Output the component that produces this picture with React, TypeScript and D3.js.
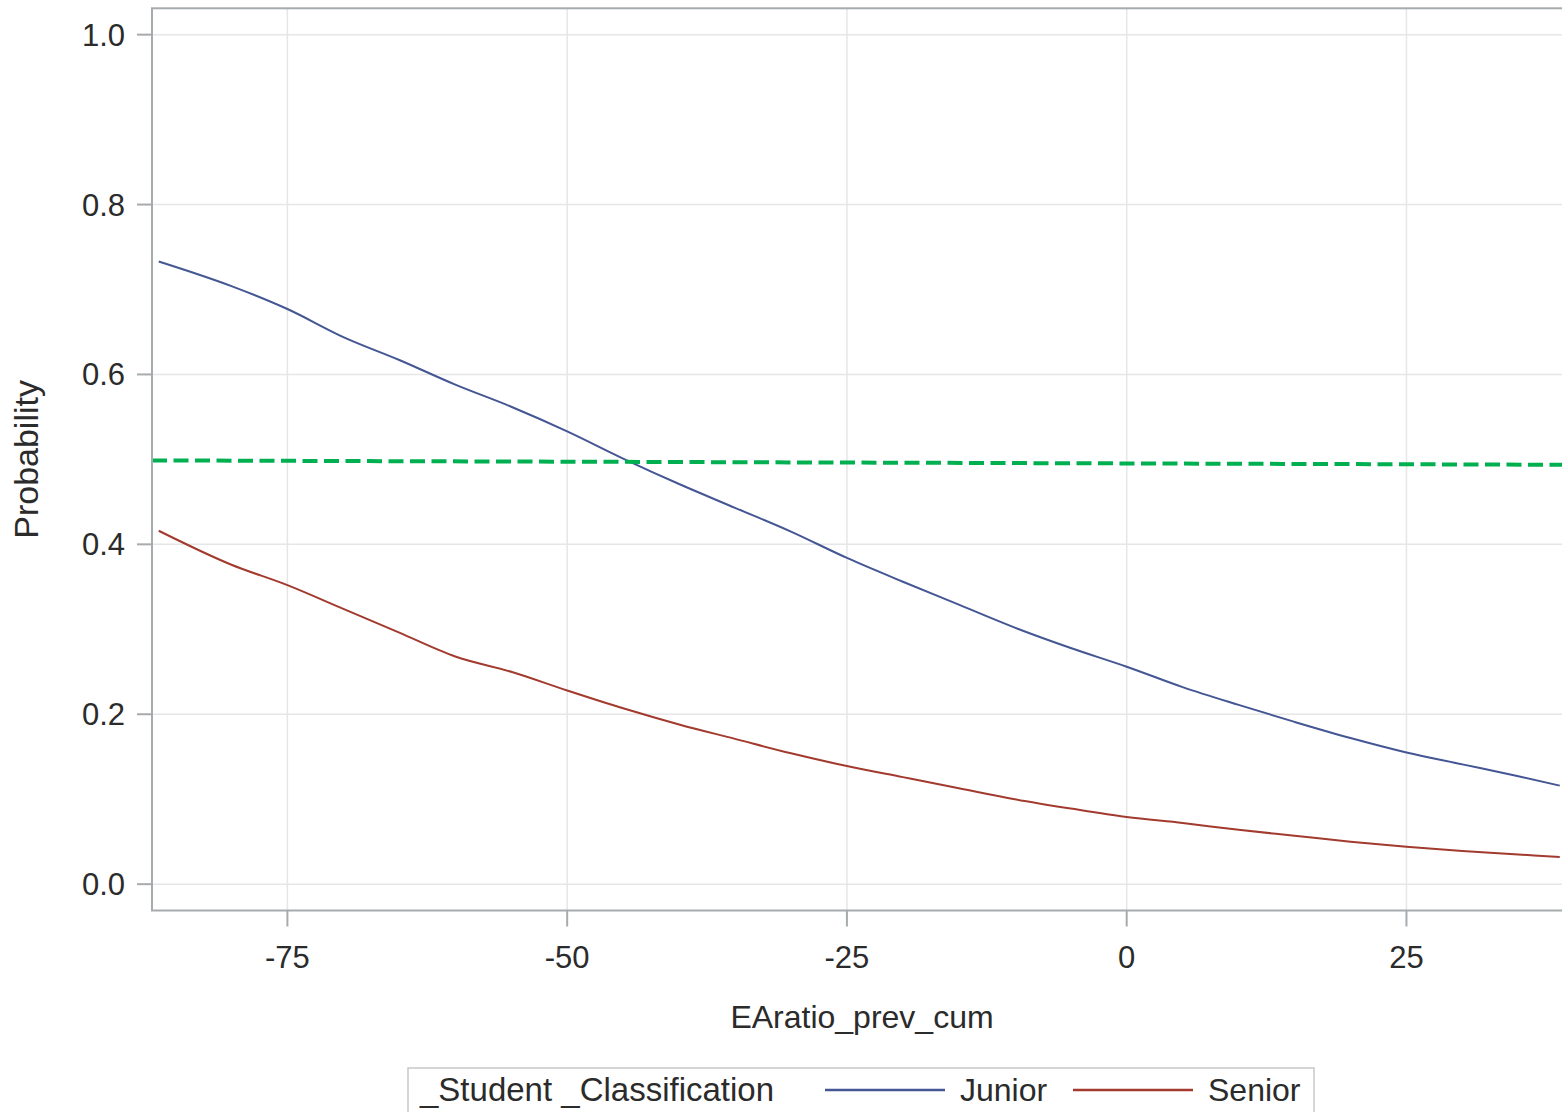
import React from "react";
import { scaleLinear, line, curveMonotoneX } from "d3";

// values
const xValues = [-86.5, -80, -75, -70, -65, -60, -55, -50, -45, -40, -35, -30, -25, -20, -15, -10, -5, 0, 5, 10, 15, 20, 25, 30, 35, 38.7];
const junior = [0.733, 0.704, 0.677, 0.644, 0.617, 0.588, 0.562, 0.533, 0.501, 0.471, 0.443, 0.415, 0.384, 0.356, 0.329, 0.302, 0.278, 0.256, 0.232, 0.211, 0.191, 0.172, 0.155, 0.141, 0.127, 0.116];
const senior = [0.416, 0.376, 0.352, 0.324, 0.296, 0.268, 0.25, 0.228, 0.207, 0.188, 0.171, 0.154, 0.139, 0.126, 0.113, 0.1, 0.089, 0.079, 0.072, 0.064, 0.057, 0.05, 0.044, 0.039, 0.035, 0.032];
const cutoffX = [-87.1, 38.9];
const cutoffY = [0.4988, 0.4937];

const xTicks = [-75, -50, -25, 0, 25];
const yTicks = [0, 0.2, 0.4, 0.6, 0.8, 1.0];

const seriesNames = ["Junior", "Senior"];
const seriesColors = ["#445694", "#A23A2E"];

const W = 1562;
const H = 1112;
const left = 152;
const right = 1562;
const top = 8.3;
const bottom = 910.5;

const font = "'Liberation Sans', Arial, sans-serif";
const ink = "#2b2b2b";

export default function App() {
  const x = scaleLinear().domain([-87.1, 38.9]).range([left, right]);
  const y = scaleLinear().domain([-0.031, 1.031]).range([bottom, top]);

  const path = line<[number, number]>()
    .x((d) => x(d[0]))
    .y((d) => y(d[1]))
    .curve(curveMonotoneX);

  const series = [junior, senior].map((vals) => xValues.map((v, i) => [v, vals[i]] as [number, number]));
  const cutoff = cutoffX.map((v, i) => [v, cutoffY[i]] as [number, number]);

  return (
    <svg
      width={W}
      height={H}
      style={{ position: "absolute", left: 0, top: 0, background: "#fff" }}
      fontFamily={font}
    >
      <defs>
        <clipPath id="plot">
          <rect x={left} y={top} width={right - left} height={bottom - top} />
        </clipPath>
      </defs>

      {/* grid */}
      {xTicks.map((t) => (
        <line key={"gx" + t} x1={x(t)} x2={x(t)} y1={top} y2={bottom} stroke="#e6e6e6" strokeWidth={1.5} />
      ))}
      {yTicks.map((t) => (
        <line key={"gy" + t} x1={left} x2={right} y1={y(t)} y2={y(t)} stroke="#e6e6e6" strokeWidth={1.5} />
      ))}

      <g clipPath="url(#plot)">
        {series.map((s, i) => (
          <path key={seriesNames[i]} d={path(s) || ""} fill="none" stroke={seriesColors[i]} strokeWidth={2} />
        ))}
        <path d={line()(cutoff.map((d) => [x(d[0]), y(d[1])])) || ""} fill="none" stroke="#00B050" strokeWidth={4} strokeDasharray="15 6.5" />
      </g>

      {/* frame */}
      <rect x={left} y={top} width={right - left + 2} height={bottom - top} fill="none" stroke="#a6abae" strokeWidth={2} />

      {/* y axis */}
      {yTicks.map((t) => (
        <g key={"yt" + t}>
          <line x1={left - 15} x2={left} y1={y(t)} y2={y(t)} stroke="#a6abae" strokeWidth={2} />
          <text x={125} y={y(t) + 11} textAnchor="end" fontSize={31} fill={ink}>
            {t.toFixed(1)}
          </text>
        </g>
      ))}
      <text transform={`translate(38, ${(top + bottom) / 2}) rotate(-90)`} textAnchor="middle" fontSize={34} fill={ink}>
        Probability
      </text>

      {/* x axis */}
      {xTicks.map((t) => (
        <g key={"xt" + t}>
          <line x1={x(t)} x2={x(t)} y1={bottom} y2={bottom + 16} stroke="#a6abae" strokeWidth={2} />
          <text x={x(t)} y={968} textAnchor="middle" fontSize={31} fill={ink}>
            {t}
          </text>
        </g>
      ))}
      <text x={862} y={1028} textAnchor="middle" fontSize={32} fill={ink}>
        EAratio_prev_cum
      </text>

      {/* legend */}
      <rect x={408} y={1068} width={906} height={60} fill="none" stroke="#c8c8c8" strokeWidth={1.5} />
      <text x={420} y={1101} fontSize={33} fill={ink}>
        _Student _Classification
      </text>
      {seriesNames.map((name, i) => (
        <g key={"lg" + name} transform={`translate(${825 + i * 248}, 0)`}>
          <line x1={0} x2={120} y1={1090} y2={1090} stroke={seriesColors[i]} strokeWidth={2.5} />
          <text x={135} y={1101} fontSize={32} fill={ink}>
            {name}
          </text>
        </g>
      ))}
    </svg>
  );
}
